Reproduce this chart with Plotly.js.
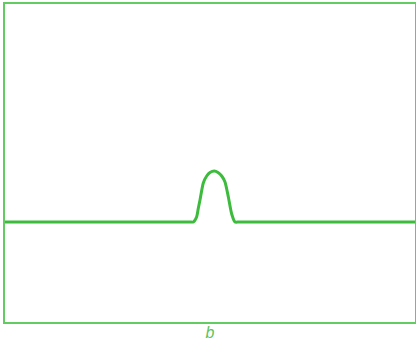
<!DOCTYPE html>
<html>
<head>
<meta charset="utf-8">
<script src="https://cdn.plot.ly/plotly-3.0.1.min.js"></script>
<style>html,body{margin:0;padding:0;background:#fff;}#chart{width:416px;height:344px;}</style>
</head>
<body>
<div id="chart"></div>
<script>
// Trace of the signal (horizontal position, height above the bottom edge)
const xPos = [0, 90, 180, 185, 188.3, 191.7, 193.3, 195, 198.3, 201.7, 205, 209.3, 213, 216.7, 220, 223.3, 226.7, 230, 234, 320, 410];
const yVal = [100, 100, 100, 100, 100, 105.3, 113.7, 122, 139, 146, 149.5, 151, 149.5, 146, 140, 125.3, 108, 100, 100, 100, 100];
const axisLabel = "b";

const green = "#3dbb3d";
const frame = "#62cc62";

Plotly.newPlot("chart", [{
  x: xPos, y: yVal, type: "scatter", mode: "lines",
  line: {color: green, width: 3, shape: "spline", smoothing: 0.6},
  hoverinfo: "skip"
}], {
  width: 416, height: 344,
  margin: {l: 5, r: 1, t: 4, b: 22},
  paper_bgcolor: "#fff", plot_bgcolor: "#fff",
  showlegend: false,
  xaxis: {
    range: [0, 410], showgrid: false, zeroline: false, showticklabels: false, ticks: "",
    showline: true, mirror: true, linecolor: frame, linewidth: 2,
    title: {text: "<i>" + axisLabel + "</i>", font: {family: "Liberation Sans, Arial, sans-serif", size: 16, color: "#5cc45c"}, standoff: 4}
  },
  yaxis: {
    range: [0, 318], showgrid: false, zeroline: false, showticklabels: false, ticks: "",
    showline: true, mirror: true, linecolor: frame, linewidth: 2
  }
}, {displayModeBar: false, staticPlot: true});
</script>
</body>
</html>
